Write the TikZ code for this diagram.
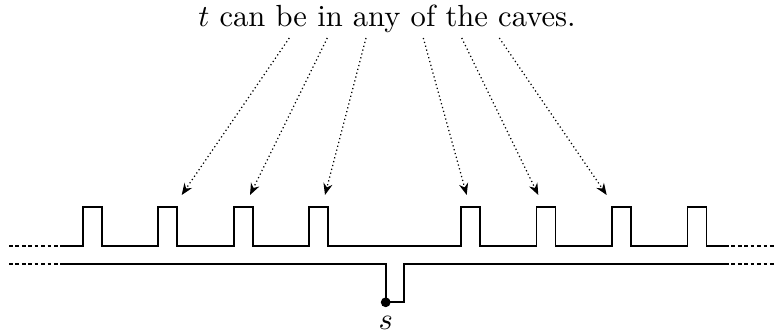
\documentclass[tikz,border=0pt]{standalone}
\usepackage{tikz}
\usetikzlibrary{arrows.meta}
\tikzset{
    wall_line/.style={line width=0.55pt, draw=black},
    open_end/.style={line width=0.55pt, draw=black, dash pattern={on 1.2pt off 0.9pt}},
    hint_arrow/.style={line width=0.4pt, dash pattern={on 0.4pt off 0.9pt}, -{Stealth[length=3.8pt, width=3pt]}},
    start_dot/.style={circle, fill=black, minimum size=3.2pt, inner sep=0pt},
    cave_top/.style={coordinate}
}
\begin{document}
\begin{tikzpicture}[x=0.327pt, y=-0.327pt]
    \useasboundingbox (0,0) rectangle (774,333);
    \node[anchor=base, inner sep=0pt] (caption) at (387,27) {$t$ can be in any of the caves.};
    % upper wall with the caves
    \draw[wall_line] (61,245.7)
        \foreach \cx in {82.7,158.2,233.7,309.2,461,536.5,612,687.5} {
            -- (\cx,245.7) -- (\cx,207.3) -- ++(19,0) -- ++(0,38.4)
        } -- (725,245.7) coordinate (up_r);
    \coordinate (up_l) at (61,245.7);
    % lower wall with the pit of s
    \coordinate (low_l) at (61,264.3);
    \coordinate (low_r) at (725,264.3);
    \node[start_dot] (s) at (385.7,302.3) {};
    \node[anchor=north, inner sep=1pt] (slabel) at ([yshift=-1.5pt]s.south) {$s$};
    \draw[wall_line] (low_l) -- (385.7,264.3) -- (s.center) -- (404,302.3) -- (404,264.3) -- (low_r);
    % open ends
    \draw[open_end] (9,245.7) -- (up_l);
    \draw[open_end] (9,264.3) -- (low_l);
    \draw[open_end] (up_r) -- (774,245.7);
    \draw[open_end] (low_r) -- (774,264.3);
    % hints from the caption
    \coordinate (src1) at (289.3,38);
    \coordinate (src2) at (327.3,38);
    \coordinate (src3) at (366,38);
    \coordinate (src4) at (423.3,38);
    \coordinate (src5) at (461.7,38);
    \coordinate (src6) at (499.3,38);
    \coordinate[cave_top] (cave2) at (181.7,195);
    \coordinate[cave_top] (cave3) at (250,195);
    \coordinate[cave_top] (cave4) at (325,195);
    \coordinate[cave_top] (cave5) at (466.7,195);
    \coordinate[cave_top] (cave6) at (538.3,195);
    \coordinate[cave_top] (cave7) at (606.7,195);
    \draw[hint_arrow] (src1) -- (cave2);
    \draw[hint_arrow] (src2) -- (cave3);
    \draw[hint_arrow] (src3) -- (cave4);
    \draw[hint_arrow] (src4) -- (cave5);
    \draw[hint_arrow] (src5) -- (cave6);
    \draw[hint_arrow] (src6) -- (cave7);
\end{tikzpicture}
\end{document}
